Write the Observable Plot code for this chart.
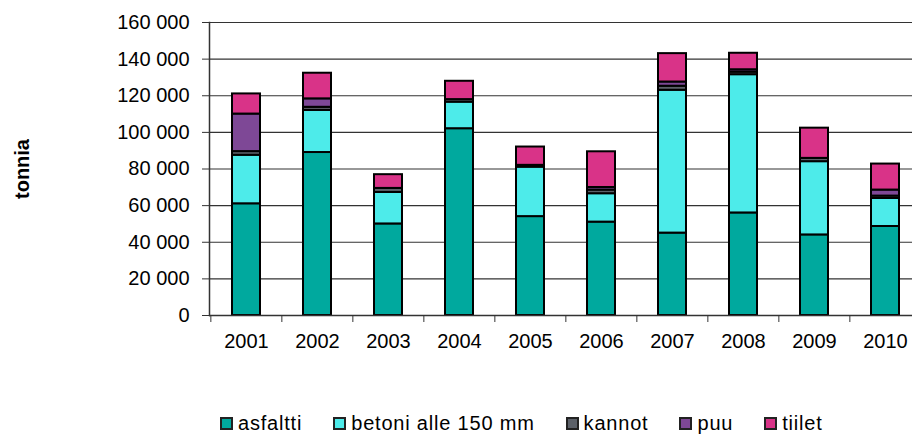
<!DOCTYPE html>
<html>
<head>
<meta charset="utf-8">
<script src="https://cdn.jsdelivr.net/npm/d3@7"></script>
<script src="https://cdn.jsdelivr.net/npm/@observablehq/plot@0.6"></script>
<style>
  html, body { margin: 0; padding: 0; background: #fff; overflow: hidden; }
  #wrap { position: relative; width: 912px; height: 434px; overflow: hidden; font-family: "Liberation Sans", Arial, sans-serif; color: #000; }
  #chart { position: absolute; left: 0; top: 0; width: 922px; }
  #chart svg { max-width: none !important; }
  #ylabel { position: absolute; left: 22px; top: 169px; transform: translate(-50%, -50%) rotate(-90deg); font-weight: bold; font-size: 20px; white-space: nowrap; }
  #legend { position: absolute; left: 220px; top: 413px; display: flex; align-items: center; font-size: 20px; letter-spacing: 0.8px; line-height: 20px; }
  .item { display: flex; align-items: center; margin-right: 31px; }
  .sw { width: 9px; height: 9px; border: 2px solid #222; margin-right: 5px; }
</style>
</head>
<body>
<div id="wrap">
  <div id="chart"></div>
  <div id="ylabel">tonnia</div>
  <div id="legend"></div>
</div>
<script>
const years = ["2001","2002","2003","2004","2005","2006","2007","2008","2009","2010"];
const seriesNames = ["asfaltti", "betoni alle 150 mm", "kannot", "puu", "tiilet"];
const seriesColors = ["#00A99E", "#4DEBEA", "#5C6169", "#7E4896", "#D93388"];
const asfaltti = [61000, 89000, 50000, 102000, 54000, 51000, 45000, 56000, 44000, 48600];
const betoni   = [26500, 23000, 17200, 14500, 27000, 15500, 78000, 75500, 40000, 15300];
const kannot   = [2000, 1700, 2200, 1400, 1000, 2000, 2200, 1400, 1800, 1300];
const puu      = [20500, 4600, 0, 0, 0, 1400, 2300, 1300, 0, 3300];
const tiilet   = [11000, 14000, 7500, 10000, 10000, 19500, 15500, 9000, 16500, 14200];
const yTicks = [0, 20000, 40000, 60000, 80000, 100000, 120000, 140000, 160000];

const seriesValues = [asfaltti, betoni, kannot, puu, tiilet];
const data = years.flatMap((year, i) =>
  seriesNames.map((name, k) => ({year, type: name, value: seriesValues[k][i]}))
).filter(d => d.value > 0);

const fmt = d3.formatLocale({thousands: "\u00a0", grouping: [3], decimal: ","}).format(",d");

const W = 922, marginLeft = 209, marginRight = 0;
const step = (W - marginLeft - marginRight) / years.length;

const plot = Plot.plot({
  width: W,
  height: 360,
  marginLeft,
  marginRight,
  marginTop: 22,
  marginBottom: 45,
  style: {fontFamily: "'Liberation Sans', Arial, sans-serif", fontSize: "20px", color: "#000", background: "transparent", maxWidth: "none"},
  x: {domain: years, paddingInner: 0.6, paddingOuter: 0.3, label: null},
  y: {domain: [0, 160000], label: null},
  color: {domain: seriesNames, range: seriesColors},
  marks: [
    Plot.gridY(yTicks.filter(v => v > 0), {stroke: "#333", strokeOpacity: 1, strokeWidth: 1.2}),
    Plot.barY(data, {x: "year", y: "value", fill: "type", stroke: "#000", strokeWidth: 2, order: seriesNames}),
    Plot.ruleY([0], {stroke: "#333", strokeWidth: 1.5}),
    Plot.frame({anchor: "left", stroke: "#333", strokeWidth: 1.5}),
    Plot.axisY(yTicks, {tickSize: 7, tickPadding: 13, tickFormat: fmt, label: null, stroke: "#333", fill: "#000", fontSize: 20, letterSpacing: 0.7}),
    Plot.axisX({tickSize: 7, tickFormat: () => "", dx: -step / 2, label: null, stroke: "#333"}),
    Plot.axisX({tickSize: 0, tickPadding: 18, label: null, fontSize: 20})
  ]
});
document.getElementById("chart").appendChild(plot);

const legend = document.getElementById("legend");
seriesNames.forEach((name, k) => {
  const item = document.createElement("div");
  item.className = "item";
  const sw = document.createElement("div");
  sw.className = "sw";
  sw.style.background = seriesColors[k];
  const t = document.createElement("span");
  t.textContent = name;
  item.appendChild(sw);
  item.appendChild(t);
  legend.appendChild(item);
});
</script>
</body>
</html>
